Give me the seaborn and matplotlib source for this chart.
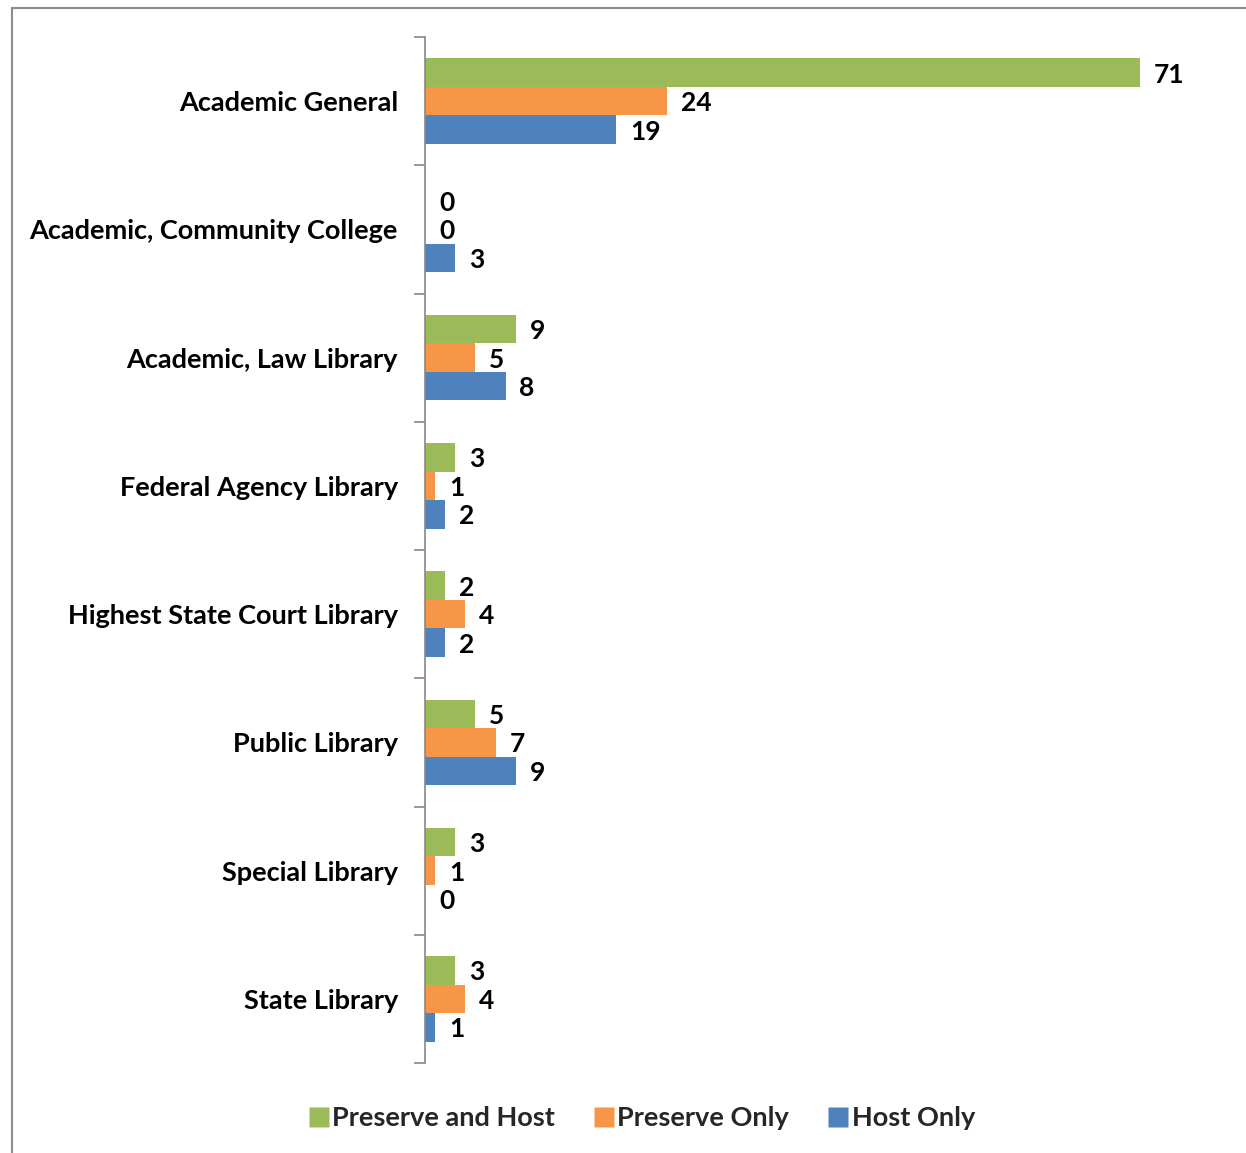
import matplotlib
matplotlib.use("Agg")
import matplotlib.pyplot as plt
import seaborn as sns
import pandas as pd
from matplotlib.lines import Line2D

categories = ["Academic General", "Academic, Community College", "Academic, Law Library",
              "Federal Agency Library", "Highest State Court Library", "Public Library",
              "Special Library", "State Library"]
series_names = ["Preserve and Host", "Preserve Only", "Host Only"]
preserve_and_host = [71, 0, 9, 3, 2, 5, 3, 3]
preserve_only = [24, 0, 5, 1, 4, 7, 1, 4]
host_only = [19, 3, 8, 2, 2, 9, 0, 1]
colors = ["#9BBB59", "#F79646", "#4F81BD"]

rows = []
for name, vals in zip(series_names, [preserve_and_host, preserve_only, host_only]):
    for c, v in zip(categories, vals):
        rows.append({"Category": c, "Series": name, "Value": v})
df = pd.DataFrame(rows)

sns.set_theme(style="white")
plt.rcParams["font.family"] = ["Lato", "DejaVu Sans"]

fig = plt.figure(figsize=(12.46, 11.53), dpi=100)
ax = fig.add_axes([425/1246, 1 - 1063/1153, 806/1246, (1063 - 37)/1153])

sns.barplot(data=df, y="Category", x="Value", hue="Series", order=categories,
            hue_order=series_names, palette=colors, orient="h", width=0.665,
            saturation=1, ax=ax, legend=False, edgecolor="none")

for cont in ax.containers:
    texts = ax.bar_label(cont, padding=10, fontsize=19, fontweight="bold", color="black")
    for t in texts:
        t.set_va("center_baseline")

ax.set_xlim(0, 80)
ax.set_ylim(len(categories) - 0.5, -0.5)
ax.set_xlabel("")
ax.set_ylabel("")
ax.set_xticks([])
for s in ["top", "right", "bottom"]:
    ax.spines[s].set_visible(False)
ax.spines["left"].set_color("#888888")
ax.spines["left"].set_linewidth(1.2)
ax.set_yticks([i - 0.5 for i in range(len(categories) + 1)], minor=True)
ax.tick_params(axis="y", which="minor", length=8, width=1.2, color="#888888", left=True)
ax.tick_params(axis="y", which="major", length=0, pad=19.5)
ax.set_yticklabels(categories, fontsize=19.5, fontweight="bold", color="black")

handles = [Line2D([0], [0], marker="s", linestyle="none", markersize=14,
                  markerfacecolor=c, markeredgecolor="none") for c in colors]
fig.legend(handles, series_names, loc="center", bbox_to_anchor=(640/1246, 1 - 1118/1153),
           ncol=3, frameon=False, prop={"weight": "bold", "size": 19.5},
           handletextpad=0.0, columnspacing=1.3, handlelength=1.0)

# outer chart border
fig.add_artist(Line2D([12/1246, 12/1246], [0, 1 - 8/1153], transform=fig.transFigure,
                      color="#8c8c8c", linewidth=1.5))
fig.add_artist(Line2D([12/1246, 1], [1 - 8/1153, 1 - 8/1153], transform=fig.transFigure,
                      color="#8c8c8c", linewidth=1.5))

fig.savefig("out.png", dpi=100)
